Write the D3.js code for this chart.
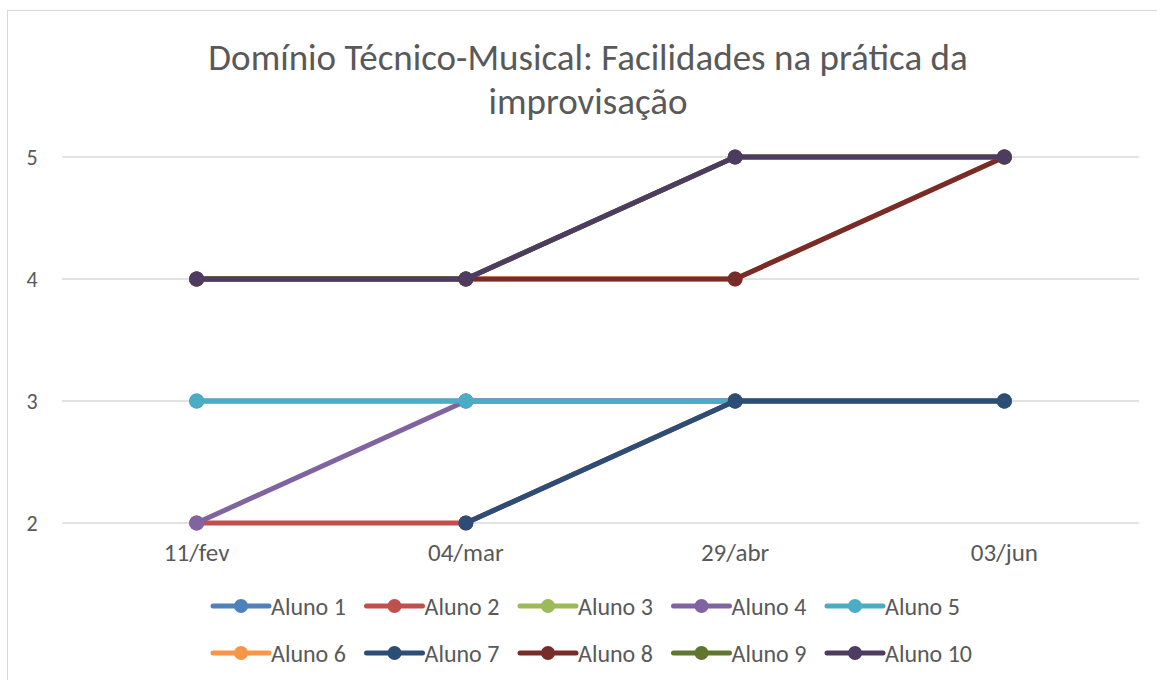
<!DOCTYPE html>
<html>
<head>
<meta charset="utf-8">
<script src="https://cdn.jsdelivr.net/npm/d3@7"></script>
<style>
  body { margin: 0; background: #fff; }
  text { font-family: Carlito, Lato, "Open Sans", sans-serif; fill: #595959; }
</style>
</head>
<body>
<svg id="chart" width="1157" height="680"></svg>
<script>
// categories (x axis)
const categories = ["11/fev", "04/mar", "29/abr", "03/jun"];
const yTicks = [2, 3, 4, 5];

// series values, one list per student (null = no value)
const seriesNames = ["Aluno 1", "Aluno 2", "Aluno 3", "Aluno 4", "Aluno 5",
                     "Aluno 6", "Aluno 7", "Aluno 8", "Aluno 9", "Aluno 10"];
const aluno1  = [3, 3, 3, 3];
const aluno2  = [2, 2, 3, 3];
const aluno3  = [4, 4, 5, 5];
const aluno4  = [2, 3, 3, 3];
const aluno5  = [3, 3, 3, 3];
const aluno6  = [4, 4, 4, 5];
const aluno7  = [null, 2, 3, 3];
const aluno8  = [4, 4, 4, 5];
const aluno9  = [4, 4, 5, 5];
const aluno10 = [4, 4, 5, 5];
const allValues = [aluno1, aluno2, aluno3, aluno4, aluno5, aluno6, aluno7, aluno8, aluno9, aluno10];

const seriesColors = ["#4f81bd", "#c0504d", "#9bbb59", "#8064a2", "#4bacc6",
                      "#f79646", "#2c4d75", "#772c2a", "#5f7530", "#4d3b62"];

const svg = d3.select("#chart");

// chart area border
svg.append("rect")
    .attr("x", 7.5).attr("y", 10.5)
    .attr("width", 1160).attr("height", 680)
    .attr("fill", "#fff")
    .attr("stroke", "#d9d9d9");

// Title
const title = svg.append("text")
    .attr("text-anchor", "middle")
    .style("font-size", "37px");
title.append("tspan").attr("x", 588).attr("y", 70).text("Domínio Técnico-Musical: Facilidades na prática da");
title.append("tspan").attr("x", 588).attr("y", 114).text("improvisação");

// scales
const x = d3.scaleBand()
    .domain(categories)
    .range([62, 1139]);

const y = d3.scaleLinear()
    .domain([2, 5])
    .range([523, 157]);

// gridlines
svg.append("g")
    .selectAll("line")
    .data(yTicks)
    .join("line")
    .attr("x1", 62).attr("x2", 1139)
    .attr("y1", d => y(d)).attr("y2", d => y(d))
    .attr("stroke", "#d9d9d9")
    .attr("stroke-width", 1.5);

// Y axis labels
svg.append("g")
    .selectAll("text")
    .data(yTicks)
    .join("text")
    .attr("x", 32)
    .attr("y", d => y(d))
    .attr("text-anchor", "middle")
    .attr("dominant-baseline", "central")
    .style("font-size", "22px")
    .text(d => d);

// X axis labels
svg.append("g")
    .selectAll("text")
    .data(categories)
    .join("text")
    .attr("x", d => x(d) + x.bandwidth() / 2)
    .attr("y", 552)
    .attr("text-anchor", "middle")
    .attr("dominant-baseline", "central")
    .style("font-size", "25px")
    .text(d => d);

// Lines and markers, in series order (later on top)
const line = d3.line()
    .defined(d => d.v !== null)
    .x(d => x(d.c) + x.bandwidth() / 2)
    .y(d => y(d.v));

allValues.forEach((vals, i) => {
    const pts = vals.map((v, j) => ({ c: categories[j], v: v }));
    const g = svg.append("g");
    g.append("path")
        .datum(pts)
        .attr("fill", "none")
        .attr("stroke", seriesColors[i])
        .attr("stroke-width", 5)
        .attr("stroke-linejoin", "round")
        .attr("d", line);
    g.selectAll("circle")
        .data(pts.filter(d => d.v !== null))
        .join("circle")
        .attr("cx", d => x(d.c) + x.bandwidth() / 2)
        .attr("cy", d => y(d.v))
        .attr("r", 7.5)
        .attr("fill", seriesColors[i]);
});

// Legend
const legend = svg.append("g");
seriesNames.forEach((name, i) => {
    const col = i % 5, row = Math.floor(i / 5);
    const lx = 213 + col * 153.5, ly = 606 + row * 47;
    const item = legend.append("g").attr("transform", `translate(${lx},${ly})`);
    item.append("line")
        .attr("x1", 0).attr("x2", 56)
        .attr("stroke", seriesColors[i])
        .attr("stroke-width", 5)
        .attr("stroke-linecap", "round");
    item.append("circle")
        .attr("cx", 28).attr("r", 7)
        .attr("fill", seriesColors[i]);
    item.append("text")
        .attr("x", 58)
        .attr("dominant-baseline", "central")
        .style("font-size", "24px")
        .text(name);
});
</script>
</body>
</html>
